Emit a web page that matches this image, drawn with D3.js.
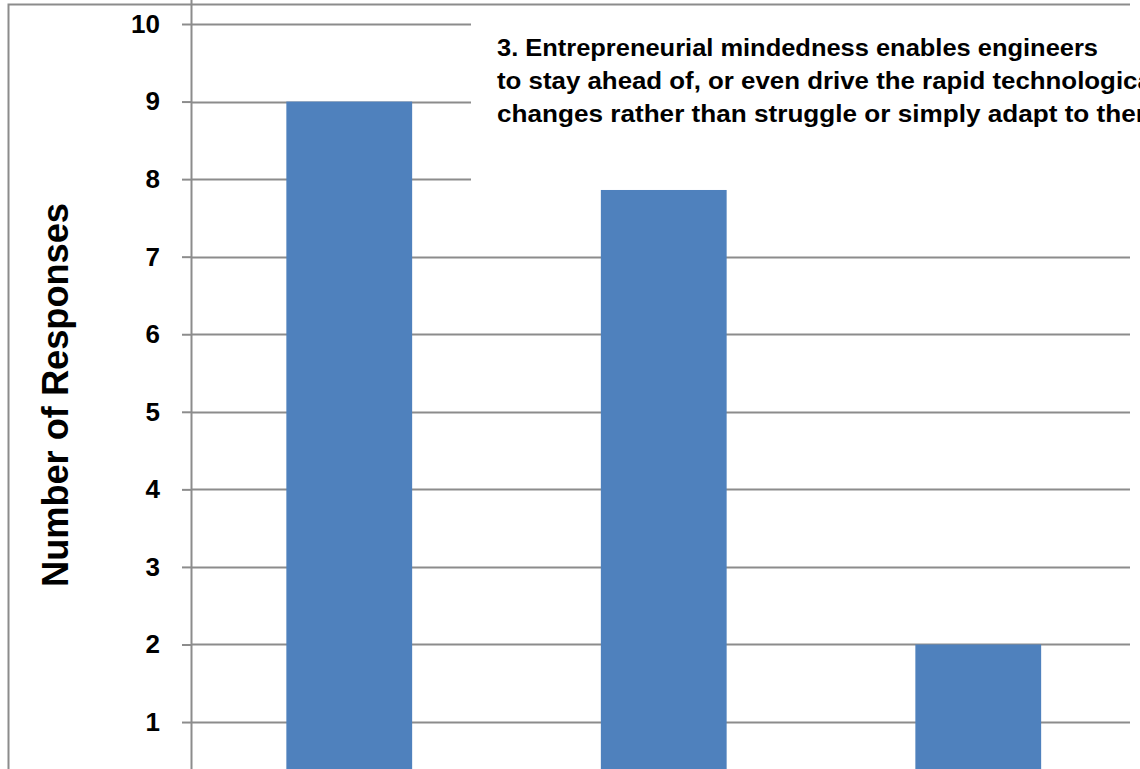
<!DOCTYPE html>
<html><head><meta charset="utf-8">
<script src="https://cdn.jsdelivr.net/npm/d3@7"></script>
<style>body{margin:0;background:#fff}svg{display:block}</style>
</head><body>
<script>
const categories = ["A", "B", "C"];
const values = [9, 7.86, 2];
const yTicks = [1, 2, 3, 4, 5, 6, 7, 8, 9, 10];
const yLabel = "Number of Responses";
const titleLines = [
  "3. Entrepreneurial mindedness enables engineers",
  "to stay ahead of, or even drive the rapid technological",
  "changes rather than struggle or simply adapt to them"
];

const W = 1140, H = 769;
const svg = d3.select("body").append("svg").attr("width", W).attr("height", H);
const font = "'Liberation Sans', Arial, sans-serif";

// outer frame (top and left visible)
svg.append("path").attr("d", "M8.5,769 V4.5 H1130").attr("fill", "none").attr("stroke", "#8c8c8c").attr("stroke-width", 2);

const x0 = 192, x1 = 1135.5, plotRight = 1130;
const x = d3.scaleBand().domain(categories).range([x0, x1]).paddingInner(0.6).paddingOuter(0.3);
const y = d3.scaleLinear().domain([0, 10]).range([799.6, 24]);

// gridlines
svg.append("g").selectAll("line").data(yTicks).join("line")
  .attr("x1", x0).attr("x2", plotRight)
  .attr("y1", d => Math.round(y(d)) + 0.5).attr("y2", d => Math.round(y(d)) + 0.5)
  .attr("stroke", "#8c8c8c").attr("stroke-width", 2);

// bars
svg.append("g").selectAll("rect").data(values).join("rect")
  .attr("x", (d, i) => x(categories[i]))
  .attr("width", x.bandwidth())
  .attr("y", d => y(d))
  .attr("height", d => y(0) - y(d))
  .attr("fill", "#4F81BD");

// y axis
const yAxis = d3.axisLeft(y).tickValues(yTicks).tickSize(10).tickPadding(22).tickFormat(d3.format("d"));
const ga = svg.append("g").attr("transform", `translate(${x0},0)`).call(yAxis);
ga.select(".domain").attr("stroke", "#8c8c8c").attr("stroke-width", 2).attr("d", `M-0.5,0 V${H}`);
ga.selectAll(".tick line").attr("stroke", "#8c8c8c").attr("stroke-width", 2);
ga.selectAll(".tick text").attr("font-family", font).attr("font-weight", "bold").attr("font-size", 26).attr("fill", "#000");

// y label
svg.append("text").attr("transform", "translate(68,395) rotate(-90)")
  .attr("text-anchor", "middle").attr("font-family", font).attr("font-weight", "bold")
  .attr("font-size", 37).attr("fill", "#000")
  .attr("textLength", 384).attr("lengthAdjust", "spacingAndGlyphs")
  .text(yLabel);

// title box
svg.append("rect").attr("x", 471).attr("y", 15).attr("width", W - 471).attr("height", 170).attr("fill", "#fff");
const lens = [601, 662, 662];
svg.append("g").selectAll("text").data(titleLines).join("text")
  .attr("x", 497).attr("y", (d, i) => 56 + i * 33)
  .attr("font-family", font).attr("font-weight", "bold").attr("font-size", 23).attr("fill", "#000")
  .attr("textLength", (d, i) => lens[i]).attr("lengthAdjust", "spacingAndGlyphs")
  .text(d => d);
</script>
</body></html>
